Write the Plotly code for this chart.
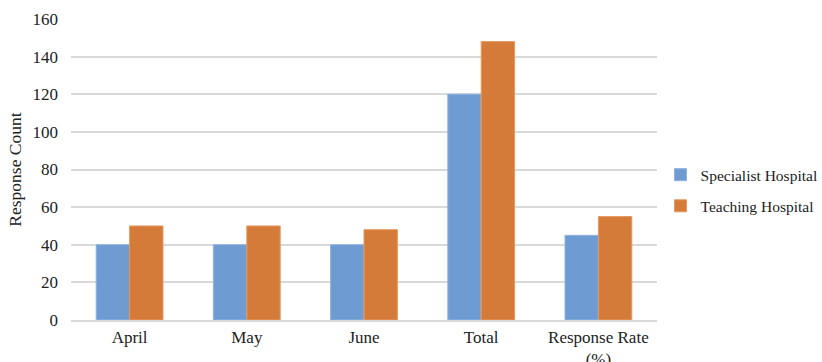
import plotly.graph_objects as go

categories = ["April", "May", "June", "Total", "Response Rate<br>(%)"]
specialist = [40, 40, 40, 120, 45]
teaching = [50, 50, 48, 148, 55]
y_ticks = [0, 20, 40, 60, 80, 100, 120, 140, 160]

font_family = "Liberation Serif, Times New Roman, serif"

fig = go.Figure()
fig.add_trace(go.Bar(
    x=categories, y=specialist, name="Specialist Hospital",
    marker=dict(color="#6f9bd3", line=dict(color="#8fb2e0", width=1)),
    legendgroup="a",
))
fig.add_trace(go.Bar(
    x=categories, y=teaching, name="Teaching Hospital",
    marker=dict(color="#d57b3a", line=dict(color="#e59a62", width=1)),
    legendgroup="b",
))

fig.update_layout(
    width=822, height=362,
    margin=dict(l=71, r=165, t=19, b=42, autoexpand=False),
    plot_bgcolor="white", paper_bgcolor="white",
    barmode="group", bargap=0.43, bargroupgap=0,
    font=dict(family=font_family, size=16, color="#222222"),
    legend=dict(x=0.006, xref="paper", xanchor="left", y=0.43, yanchor="middle",
                font=dict(size=15.5, family=font_family),
                itemwidth=30, tracegroupgap=8, bgcolor="rgba(0,0,0,0)"),
    showlegend=True,
)
fig.update_layout(legend_x=1.006)
fig.update_yaxes(
    range=[0, 160], tickvals=y_ticks, showgrid=True, gridcolor="#d9d9d9", gridwidth=1.5,
    zeroline=False, showline=False, ticks="", ticklabelstandoff=12, automargin=False,
    title=dict(text="Response Count", font=dict(size=17.5, family=font_family), standoff=6),
    tickfont=dict(size=17, family=font_family),
)
fig.update_xaxes(
    showline=True, linecolor="#d9d9d9", linewidth=1.5, ticks="", automargin=False,
    tickfont=dict(size=17, family=font_family), ticklabelstandoff=1,
)

fig.write_html("out.html")
